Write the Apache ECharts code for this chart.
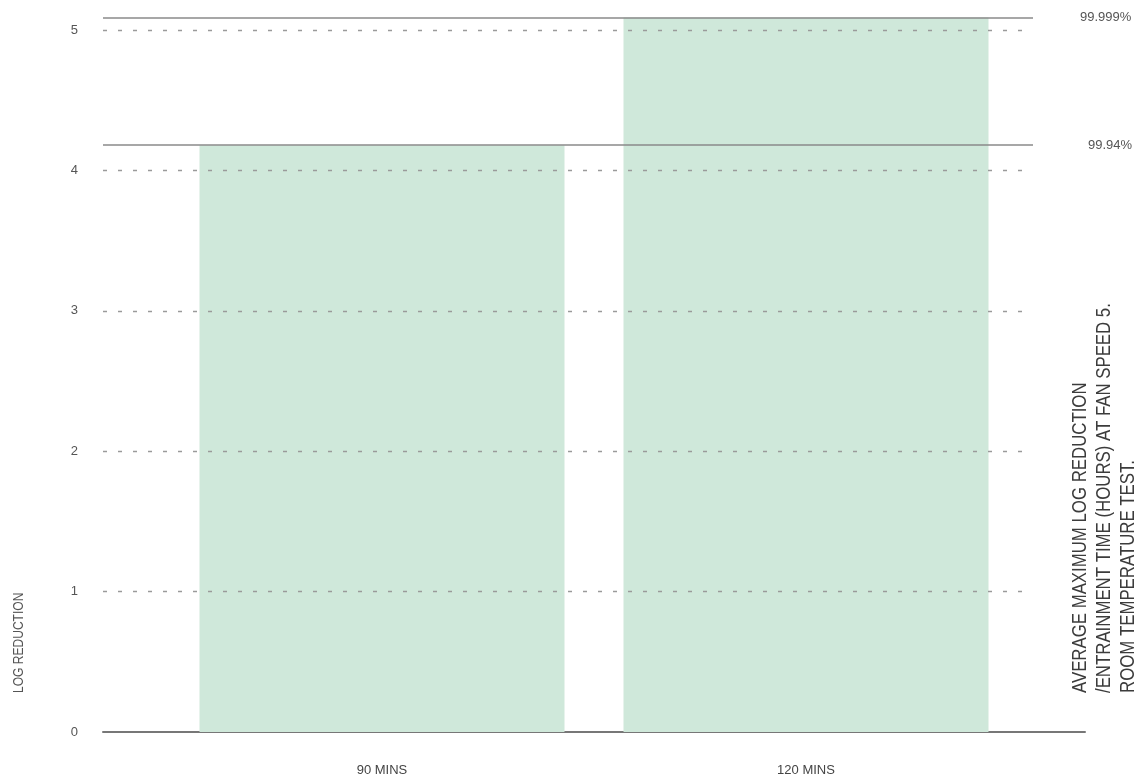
<!DOCTYPE html>
<html>
<head>
<meta charset="utf-8">
<script src="https://cdn.jsdelivr.net/npm/echarts@6/dist/echarts.min.js"></script>
<style>
  html, body { margin: 0; padding: 0; background: #fff; }
  #chart { width: 1142px; height: 783px; }
</style>
</head>
<body>
<div id="chart"></div>
<script>
'use strict';
/* log reduction by entrainment time */

var categories = ['90 MINS', '120 MINS'];
var logReduction = [4.18, 5.09];
var yTicks = [0, 1, 2, 3, 4, 5];
var refLines = [5.09, 4.18];
var refLabels = ['99.999%', '99.94%'];

var plain = '"Liberation Sans", Arial, sans-serif';
// room above the top tick so the 99.999% line fits inside the axis
var yMax = 5.2;

var chart = echarts.init(document.getElementById('chart'));

var option = {
  animation: false,
  backgroundColor: '#fff',
  grid: [
    // gridlines, y labels, reference lines
    { left: 103, right: 109, top: 2, bottom: 51 },
    // bars
    { left: 170, right: 124, top: 2, bottom: 51 },
    // base line
    { left: 103, right: 57, top: 2, bottom: 51 }
  ],
  xAxis: [{
    gridIndex: 0,
    type: 'value',
    min: 0,
    max: 1,
    show: false
  }, {
    gridIndex: 1,
    type: 'category',
    data: categories,
    axisLine: { show: false },
    axisTick: { show: false },
    axisLabel: {
      margin: 32,
      color: '#444',
      fontSize: 13,
      fontFamily: plain
    }
  }, {
    gridIndex: 2,
    type: 'value',
    min: 0,
    max: 1,
    axisLine: { show: true, lineStyle: { color: '#777', width: 2 } },
    axisTick: { show: false },
    axisLabel: { show: false },
    splitLine: { show: false }
  }],
  yAxis: [{
    gridIndex: 0,
    type: 'value',
    min: yTicks[0],
    max: yMax,
    interval: 1,
    z: 5,
    axisLine: { show: false },
    axisTick: { show: false },
    axisLabel: {
      margin: 25,
      color: '#555',
      fontSize: 13,
      fontFamily: plain,
      showMaxLabel: false,
      formatter: function(v) {
        return yTicks.indexOf(v) >= 0 ? String(v) : '';
      }
    },
    splitLine: {
      show: true,
      showMinLine: false,
      showMaxLine: false,
      lineStyle: { color: '#9a9a9a', width: 1.3, type: [4, 11] }
    }
  }, {
    gridIndex: 1,
    type: 'value',
    min: 0,
    max: yMax,
    show: false
  }, {
    gridIndex: 2,
    type: 'value',
    min: 0,
    max: yMax,
    show: false
  }],
  series: [{
    name: 'log reduction',
    type: 'bar',
    xAxisIndex: 1,
    yAxisIndex: 1,
    data: logReduction,
    barWidth: 365,
    itemStyle: { color: '#cfe8da' },
    z: 1
  }, {
    name: 'reference',
    type: 'line',
    xAxisIndex: 0,
    yAxisIndex: 0,
    data: [],
    markLine: {
      silent: true,
      symbol: ['none', 'none'],
      lineStyle: { color: '#8a8a8a', width: 1.5, type: 'solid' },
      label: {
        position: 'end',
        color: '#555',
        fontSize: 13,
        fontFamily: plain
      },
      data: [{
        yAxis: refLines[0],
        label: { formatter: refLabels[0], distance: 47 }
      }, {
        yAxis: refLines[1],
        label: { formatter: refLabels[1], distance: 55 }
      }]
    },
    z: 6
  }],
  graphic: [{
    type: 'text',
    x: 12,
    y: 693,
    rotation: Math.PI / 2,
    scaleX: 0.86,
    style: {
      text: 'LOG REDUCTION',
      fill: '#555',
      font: '14px ' + plain,
      textAlign: 'left',
      textVerticalAlign: 'top'
    }
  }, {
    type: 'text',
    x: 1068,
    y: 693,
    rotation: Math.PI / 2,
    scaleX: 0.84,
    style: {
      text: 'AVERAGE MAXIMUM LOG REDUCTION\n/ENTRAINMENT TIME (HOURS) AT FAN SPEED 5.\nROOM TEMPERATURE TEST.',
      fill: '#3c3c3c',
      font: '20px ' + plain,
      lineHeight: 24,
      textAlign: 'left',
      textVerticalAlign: 'top'
    }
  }]
};

chart.setOption(option);
</script>
</body>
</html>
